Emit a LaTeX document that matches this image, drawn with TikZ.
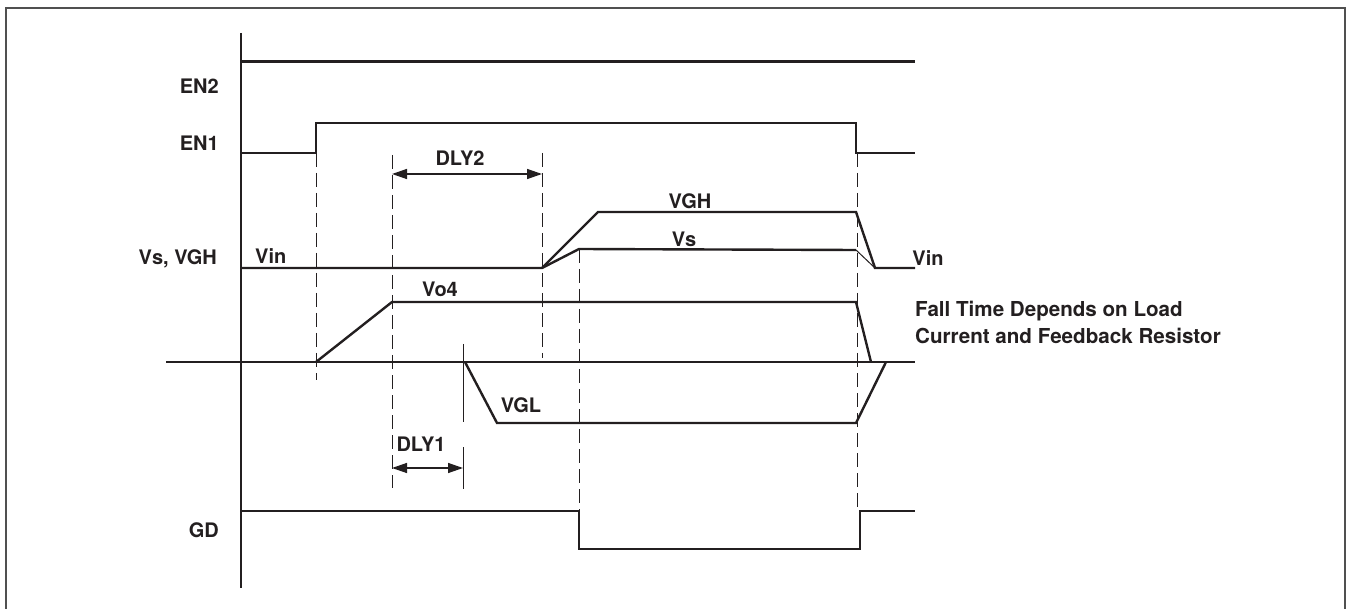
\documentclass[tikz,border=0pt]{standalone}
\usepackage{fontspec}
\setmainfont{TeX Gyre Heros}
\usepackage{xcolor}
\definecolor{tdink}{RGB}{35,31,32}
\definecolor{tdframe}{RGB}{80,80,80}
\usepackage{tikz}
\usetikzlibrary{arrows.meta, positioning, calc}

\tikzset{
  sig/.style={tdink, line width=2.4pt, line join=miter},
  thinsig/.style={tdink, line width=1pt},
  guide/.style={tdink, line width=1pt, dash pattern=on 14pt off 6pt},
  dimarrow/.style={tdink, line width=1.4pt, {Triangle[length=15pt,width=10pt]}-{Triangle[length=15pt,width=10pt]}},
  lbl/.style={font=\fontsize{20}{26.6}\selectfont\bfseries, tdink, inner sep=0pt},
}

\begin{document}
\begin{tikzpicture}[x=1pt,y=-1pt]
      \useasboundingbox (0,0) rectangle (1354,609);
      % Frame (open at the bottom)
      \draw[tdframe, line width=2pt] (5.5,625) -- (5.5,8) -- (1345,8) -- (1345,625);
      % Axes
      \draw[sig] (241,33) -- (241,588);
      \draw[sig] (166,362) -- (915,362);
      % EN2
      \node[lbl, anchor=base east] (en2) at (219,94) {EN2};
      \draw[sig] (241,61.5) -- (915,61.5);
      % EN1
      \node[lbl, anchor=base east] (en1) at (219,151) {EN1};
      \draw[sig] (241,153) -- (316,153) -- (316,123) -- (856,123) -- (856,153) -- (915,153);
      % Timing guides
      \draw[guide] (316,153) -- (316,380);
      \draw[guide] (392,155) -- (392,488);
      \draw[guide] (542,153) -- (542,358);
      \draw[guide] (579,249) -- (579,511);
      \draw[guide] (857.5,153) -- (857.5,511);
      \draw[thinsig] (463,344) -- (463,422);
      \draw[thinsig] (463,447) -- (463,489);
      % DLY2
      \coordinate (dly2a) at (392,174);
      \coordinate (dly2b) at (542,174);
      \draw[dimarrow] (dly2a) -- (dly2b);
      \node[lbl, anchor=base] (dly2) at (460,166) {DLY2};
      % Vs, VGH
      \node[lbl, anchor=base east] (vsvgh) at (217,265) {Vs, VGH};
      \node[lbl, anchor=base west] (vinl) at (255,264) {Vin};
      \draw[sig] (241,268) -- (542,268) -- (598,212) -- (856,212) -- (875,268) -- (915,268);
      \draw[sig] (542,268) -- (579,249) -- (856,250);
      \draw[thinsig] (856,250) -- (875,268);
      \node[lbl, anchor=base] (vgh) at (690,209) {VGH};
      \node[lbl, anchor=base] (vs) at (684,247) {Vs};
      \node[lbl, anchor=base] (vinr) at (928,265.5) {Vin};
      % Vo4
      \draw[sig] (316,362) -- (392,302) -- (856,302) -- (871,362);
      \node[lbl, anchor=base] (vo4) at (440,297) {Vo4};
      \node[lbl, font=\fontsize{20.6}{26.6}\selectfont\bfseries, anchor=base west, align=left] (fall) at (915,343.3)
           {Fall Time Depends on Load\\Current and Feedback Resistor};
      % VGL
      \draw[sig] (465,362) -- (497,423) -- (856,423) -- (886,362);
      \node[lbl, anchor=base] (vgl) at (521,412) {VGL};
      % DLY1
      \coordinate (dly1a) at (392,468);
      \coordinate (dly1b) at (463,468);
      \draw[dimarrow] (dly1a) -- (dly1b);
      \node[lbl, anchor=base] (dly1) at (421,451) {DLY1};
      % GD
      \node[lbl, anchor=base east] (gd) at (219,537) {GD};
      \draw[sig] (241,511) -- (579,511) -- (579,549) -- (860,549) -- (860,511) -- (915,511);
    \end{tikzpicture}
\end{document}
